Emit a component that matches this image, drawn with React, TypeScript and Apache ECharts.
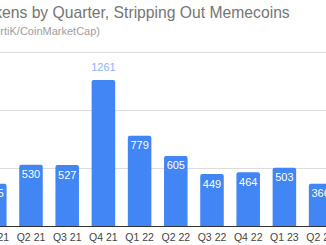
import React, { useEffect, useRef } from "react";
import * as echarts from "echarts";

const categories = ["Q1 21", "Q2 21", "Q3 21", "Q4 21", "Q1 22", "Q2 22", "Q3 22", "Q4 22", "Q1 23", "Q2 23"];
const values = [365, 530, 527, 1261, 779, 605, 449, 464, 503, 366];
const outsideLabelIndex = 3;
const titleText = "New Tokens by Quarter, Stripping Out Memecoins";
const subtitleText = "(Source: CertiK/CoinMarketCap)";

export default function App() {
  const ref = useRef<HTMLDivElement>(null);
  useEffect(() => {
    if (!ref.current) return;
    const chart = echarts.init(ref.current, null, { renderer: "svg" });
    const font = "Arial, 'Liberation Sans', sans-serif";
    chart.setOption({
      animation: false,
      title: [
        {
          text: titleText,
          right: 50,
          top: 4.5,
          padding: 0,
          textStyle: { fontFamily: font, fontSize: 15.7, fontWeight: "normal", color: "#757575" },
        },
        {
          text: subtitleText,
          right: 240,
          top: 25.5,
          padding: 0,
          textStyle: { fontFamily: font, fontSize: 11, fontWeight: "normal", color: "#9e9e9e" },
        },
      ],
      grid: { left: 36.7, width: 362, top: 52.4, bottom: 19, containLabel: false },
      xAxis: {
        type: "category",
        data: categories,
        axisTick: { show: false },
        axisLine: { lineStyle: { color: "#333", width: 1 } },
        axisLabel: { fontFamily: font, fontSize: 10.5, color: "#444", margin: 5, interval: 0 },
      },
      yAxis: {
        type: "value",
        min: 0,
        max: 1500,
        interval: 500,
        axisLabel: { show: false },
        splitLine: { lineStyle: { color: "#dcdcdc" } },
      },
      series: [
        {
          type: "bar",
          data: values.map((v, i) =>
            i === outsideLabelIndex
              ? { value: v, label: { position: "top", color: "#8ab4f8", distance: 8 } }
              : v
          ),
          barCategoryGap: "35%",
          itemStyle: { color: "#4285f4", borderRadius: [2, 2, 0, 0] },
          label: {
            show: true,
            position: "insideTop",
            distance: 4,
            color: "#ffffff",
            fontFamily: font,
            fontSize: 11,
          },
        },
      ],
    });
    return () => chart.dispose();
  }, []);
  return (
    <div style={{ position: "fixed", left: 0, top: 0, width: 326, height: 245, overflow: "hidden", background: "#fff" }}>
      <div ref={ref} style={{ position: "absolute", left: -60, top: 0, width: 400, height: 245 }} />
    </div>
  );
}
